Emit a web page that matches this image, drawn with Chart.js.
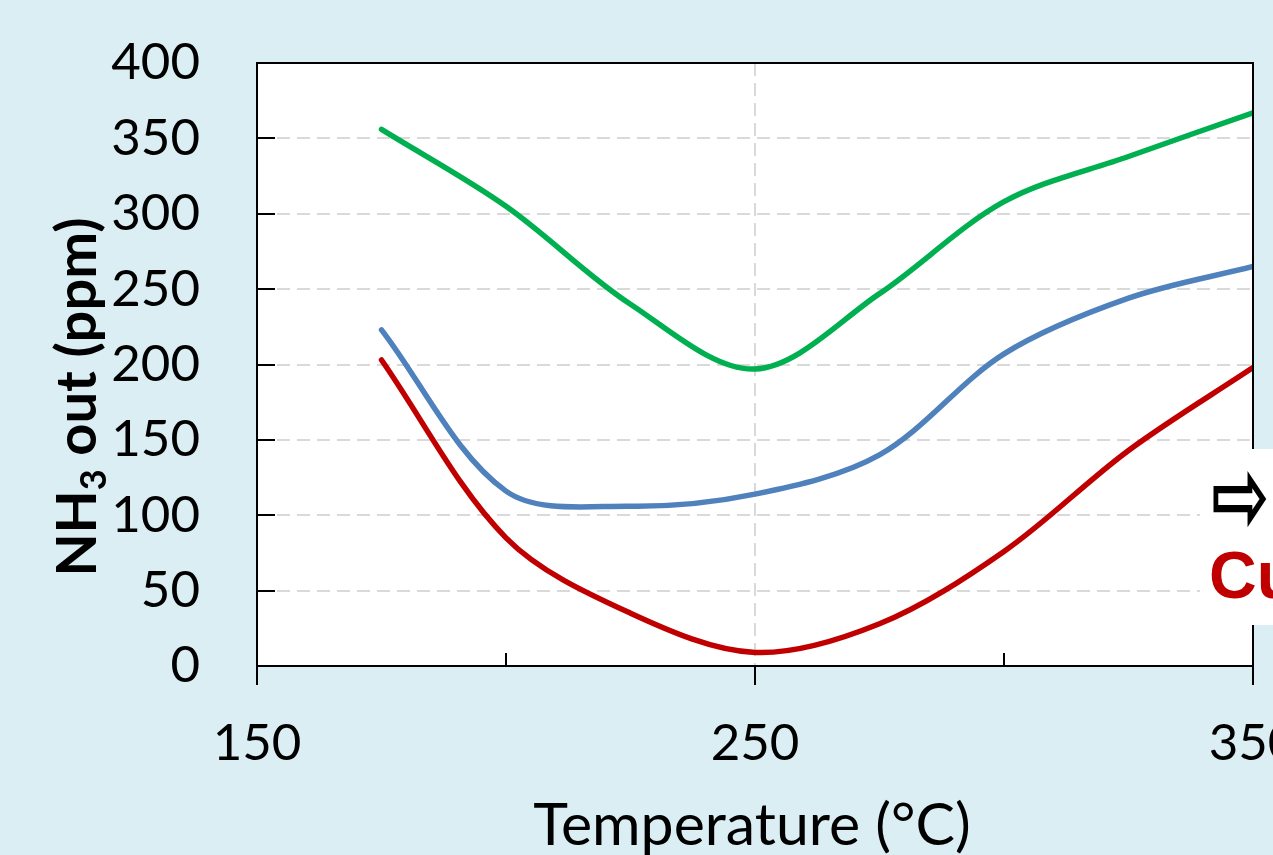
<!DOCTYPE html>
<html>
<head>
<meta charset="utf-8">
<script src="https://cdn.jsdelivr.net/npm/chart.js@4/dist/chart.umd.min.js"></script>
<style>
  html, body { margin: 0; padding: 0; overflow: hidden; background: #daeef3; }
  #wrap { position: relative; width: 1273px; height: 855px; overflow: hidden; }
  #chart { position: absolute; left: 0; top: 0; }
  #legendBox { position: absolute; left: 1200px; top: 449px; width: 220px; height: 176px; background: #fff; }
  #legendBox .arrow { position: absolute; left: 11px; top: 12px; font: bold 70px "DejaVu Sans"; color: #000; line-height: 1; transform: scaleY(1.5); transform-origin: 0 50%; }
  #legendBox .cu { position: absolute; left: 9px; top: 93px; font: bold 66px "Liberation Sans"; color: #c00000; line-height: 1; white-space: nowrap; }
</style>
</head>
<body>
<div id="wrap">
  <canvas id="chart" width="1420" height="855"></canvas>
  <div id="legendBox"><span class="arrow">⇨</span><span class="cu">Cu</span></div>
</div>
<script>
// temperatures (°C) and NH3 outlet (ppm)
const temps = [175, 200, 225, 250, 275, 300, 325, 350];
const greenVals = [356, 305, 240, 197, 247, 308, 338, 367];
const blueVals  = [223, 116, 106, 114, 140, 207, 244, 265];
const redVals   = [203, 85, 35, 9, 28, 76, 143, 198];
const xMajor = [150, 250, 350];
const xMinor = [200, 300];

const pts = vals => temps.map((t, i) => ({ x: t, y: vals[i] }));

// white plot area + dashed grid behind the curves
const gridPlugin = {
  id: 'dashGrid',
  beforeDatasetsDraw(chart) {
    const { ctx, chartArea: a, scales: { x, y } } = chart;
    ctx.save();
    ctx.fillStyle = '#fff';
    ctx.fillRect(a.left, a.top, a.right - a.left, a.bottom - a.top);
    ctx.strokeStyle = '#d9d9d9';
    ctx.lineWidth = 2;
    ctx.setLineDash([13, 7]);
    ctx.beginPath();
    y.ticks.forEach(t => {
      const py = Math.round(y.getPixelForValue(t.value));
      ctx.moveTo(a.left, py); ctx.lineTo(a.right, py);
    });
    x.ticks.forEach(t => {
      const px = Math.round(x.getPixelForValue(t.value));
      ctx.moveTo(px, a.top); ctx.lineTo(px, a.bottom);
    });
    ctx.stroke();
    ctx.restore();
  }
};

// frame, inward/outward ticks and axis titles
const framePlugin = {
  id: 'frame',
  afterDraw(chart) {
    const { ctx, chartArea: a, scales: { x, y } } = chart;
    ctx.save();
    ctx.strokeStyle = '#000';
    ctx.lineWidth = 2;
    ctx.strokeRect(a.left, a.top, a.right - a.left, a.bottom - a.top);
    ctx.beginPath();
    y.ticks.forEach(t => {
      const py = Math.round(y.getPixelForValue(t.value));
      ctx.moveTo(a.left, py); ctx.lineTo(a.left + 18, py);
    });
    xMajor.forEach(v => {
      const px = Math.round(x.getPixelForValue(v));
      ctx.moveTo(px, a.bottom); ctx.lineTo(px, a.bottom + 19);
    });
    xMinor.forEach(v => {
      const px = Math.round(x.getPixelForValue(v));
      ctx.moveTo(px, a.bottom); ctx.lineTo(px, a.bottom - 13);
    });
    ctx.stroke();

    ctx.fillStyle = '#000';
    ctx.font = '59px Lato';
    ctx.textAlign = 'center';
    ctx.textBaseline = 'alphabetic';
    ctx.fillText('Temperature (°C)', 752, 845);

    // y title with subscript 3
    ctx.translate(96, 397);
    ctx.rotate(-Math.PI / 2);
    const big = 'bold 56px Lato', small = 'bold 36px Lato';
    ctx.font = big; const w1 = ctx.measureText('NH').width;
    ctx.font = small; const w2 = ctx.measureText('3').width;
    ctx.font = big; const w3 = ctx.measureText(' out (ppm)').width;
    let sx = -(w1 + w2 + w3) / 2;
    ctx.textAlign = 'left';
    ctx.font = big; ctx.fillText('NH', sx, 0); sx += w1;
    ctx.font = small; ctx.fillText('3', sx, 10); sx += w2;
    ctx.font = big; ctx.fillText(' out (ppm)', sx, 0);
    ctx.restore();
  }
};

new Chart(document.getElementById('chart'), {
  type: 'line',
  data: {
    datasets: [
      { data: pts(greenVals), borderColor: '#00b050' },
      { data: pts(blueVals), borderColor: '#4f81bd' },
      { data: pts(redVals), borderColor: '#c00000' }
    ]
  },
  options: {
    responsive: false,
    animation: false,
    devicePixelRatio: 1,
    layout: { padding: { top: 63, right: 1420 - 1253, left: 0, bottom: 0 } },
    elements: {
      line: { borderWidth: 5.5, tension: 0.33, fill: false, borderCapStyle: 'round' },
      point: { radius: 0 }
    },
    plugins: { legend: { display: false }, tooltip: { enabled: false } },
    scales: {
      x: {
        type: 'linear', min: 150, max: 350,
        ticks: { stepSize: 100, color: '#000', font: { family: 'Lato', size: 51 }, padding: 47, maxRotation: 0 },
        grid: { display: false, drawTicks: false },
        border: { display: false },
        afterFit(s) { s.height = 855 - 666; s.paddingLeft = 0; s.paddingRight = 0; }
      },
      y: {
        min: 0, max: 400,
        ticks: { stepSize: 50, color: '#000', font: { family: 'Lato', size: 51 }, padding: 57 },
        grid: { display: false, drawTicks: false },
        border: { display: false },
        afterFit(s) { s.width = 257; s.paddingTop = 0; s.paddingBottom = 0; }
      }
    }
  },
  plugins: [gridPlugin, framePlugin]
});
</script>
</body>
</html>
